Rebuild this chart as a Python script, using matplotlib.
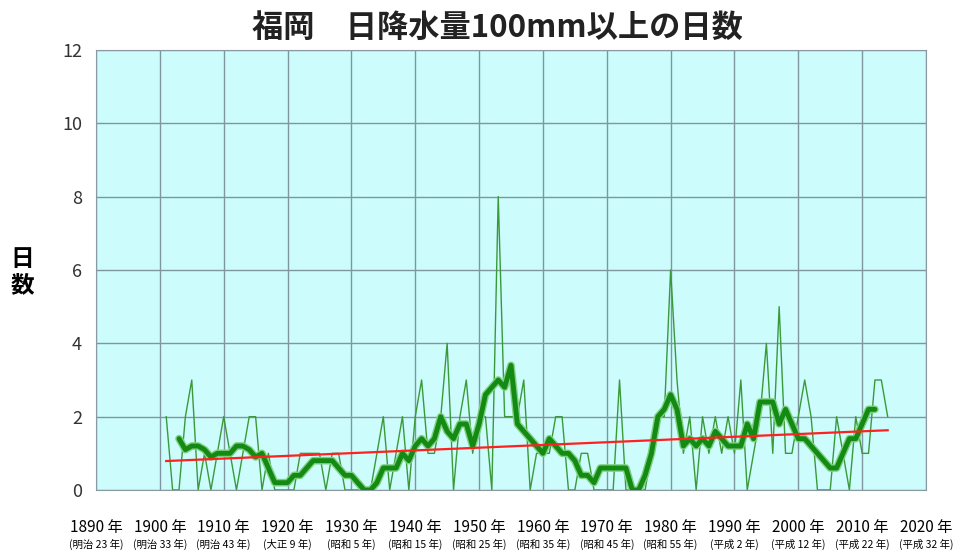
import numpy as np
import matplotlib
matplotlib.use("Agg")
import matplotlib.pyplot as plt

plt.rcParams['font.family'] = ['Noto Sans CJK JP', 'DejaVu Sans']

# yearly count of days with >=100 mm rain, Fukuoka
years = np.arange(1901, 2015)
days = [2, 0, 0, 2, 3, 0, 1, 0, 1, 2,
        1, 0, 1, 2, 2, 0, 1, 0, 0, 0,
        0, 1, 1, 1, 1, 0, 1, 1, 0, 0,
        0, 0, 0, 1, 2, 0, 1, 2, 0, 2,
        3, 1, 1, 2, 4, 0, 2, 3, 1, 2,
        2, 0, 8, 2, 2, 2, 3, 0, 1, 1,
        1, 2, 2, 0, 0, 1, 1, 0, 0, 0,
        0, 3, 0, 0, 0, 0, 1, 2, 2, 6,
        3, 1, 2, 0, 2, 1, 2, 1, 2, 1,
        3, 0, 1, 2, 4, 1, 5, 1, 1, 2,
        3, 2, 0, 0, 0, 2, 1, 0, 2, 1,
        1, 3, 3, 2]

# 5-year running mean as drawn
smooth_years = np.arange(1903, 2013)
smooth = [1.4, 1.1, 1.2, 1.2, 1.1, 0.9, 1.0, 1.0,
          1.0, 1.2, 1.2, 1.1, 0.9, 1.0, 0.6, 0.2, 0.2, 0.2,
          0.4, 0.4, 0.6, 0.8, 0.8, 0.8, 0.8, 0.6, 0.4, 0.4,
          0.2, 0.0, 0.0, 0.2, 0.6, 0.6, 0.6, 1.0, 0.8, 1.2,
          1.4, 1.2, 1.4, 2.0, 1.6, 1.4, 1.8, 1.8, 1.2, 1.8,
          2.6, 2.8, 3.0, 2.8, 3.4, 1.8, 1.6, 1.4, 1.2, 1.0,
          1.4, 1.2, 1.0, 1.0, 0.8, 0.4, 0.4, 0.2, 0.6, 0.6,
          0.6, 0.6, 0.6, 0.0, 0.0, 0.4, 1.0, 2.0, 2.2, 2.6,
          2.2, 1.2, 1.4, 1.2, 1.4, 1.2, 1.6, 1.4, 1.2, 1.2,
          1.2, 1.8, 1.4, 2.4, 2.4, 2.4, 1.8, 2.2, 1.8, 1.4,
          1.4, 1.2, 1.0, 0.8, 0.6, 0.6, 1.0, 1.4, 1.4, 1.8,
          2.2, 2.2]

# linear trend end points
trend_years = [1901, 2014]
trend = [0.79, 1.63]

tick_years = list(range(1890, 2021, 10))
era_labels = ['(明治 23 年)', '(明治 33 年)', '(明治 43 年)', '(大正 9 年)',
              '(昭和 5 年)', '(昭和 15 年)', '(昭和 25 年)', '(昭和 35 年)',
              '(昭和 45 年)', '(昭和 55 年)', '(平成 2 年)', '(平成 12 年)',
              '(平成 22 年)', '(平成 32 年)']

fig = plt.figure(figsize=(9.59, 5.59), dpi=100)
ax = fig.add_axes([96/959, 1-490/559, (926-96)/959, (490-50)/559])
ax.set_facecolor('#ccfcfc')

ax.plot(years, days, color='#3a9a3a', lw=1.0, zorder=3)
ax.plot(smooth_years, smooth, color='#80d080', lw=5.5, zorder=4,
        solid_joinstyle='round', solid_capstyle='round')
ax.plot(smooth_years, smooth, color='#138a13', lw=3.5, zorder=5,
        solid_joinstyle='round', solid_capstyle='round')
ax.plot(trend_years, trend, color='#ff2020', lw=1.6, zorder=6)

ax.set_xlim(1890, 2020)
ax.set_ylim(0, 12)
ax.set_yticks(range(0, 13, 2))
ax.set_xticks(tick_years)
ax.set_xticklabels([])
ax.grid(True, color='#7f96a0', lw=1.0)
ax.set_axisbelow(True)
ax.tick_params(length=0, pad=10, labelsize=13, labelcolor='#333333')
for s in ax.spines.values():
    s.set_color('#8a9aa0')

tr = ax.get_xaxis_transform()
for yr, era in zip(tick_years, era_labels):
    ax.text(yr, -0.085, f'{yr} 年', transform=tr, ha='center', va='center',
            fontsize=11)
    ax.text(yr, -0.123, era, transform=tr, ha='center', va='center',
            fontsize=7.5)

fig.text(22/959, 1-272/559, '日\n数', ha='center', va='center',
         fontsize=17, fontweight='bold', linespacing=1.1)
fig.text(497/959, 1-28/559, '福岡　日降水量100mm以上の日数', ha='center',
         va='center', fontsize=22.5, fontweight='bold', color='#222222')

fig.savefig('out.png', dpi=100)
